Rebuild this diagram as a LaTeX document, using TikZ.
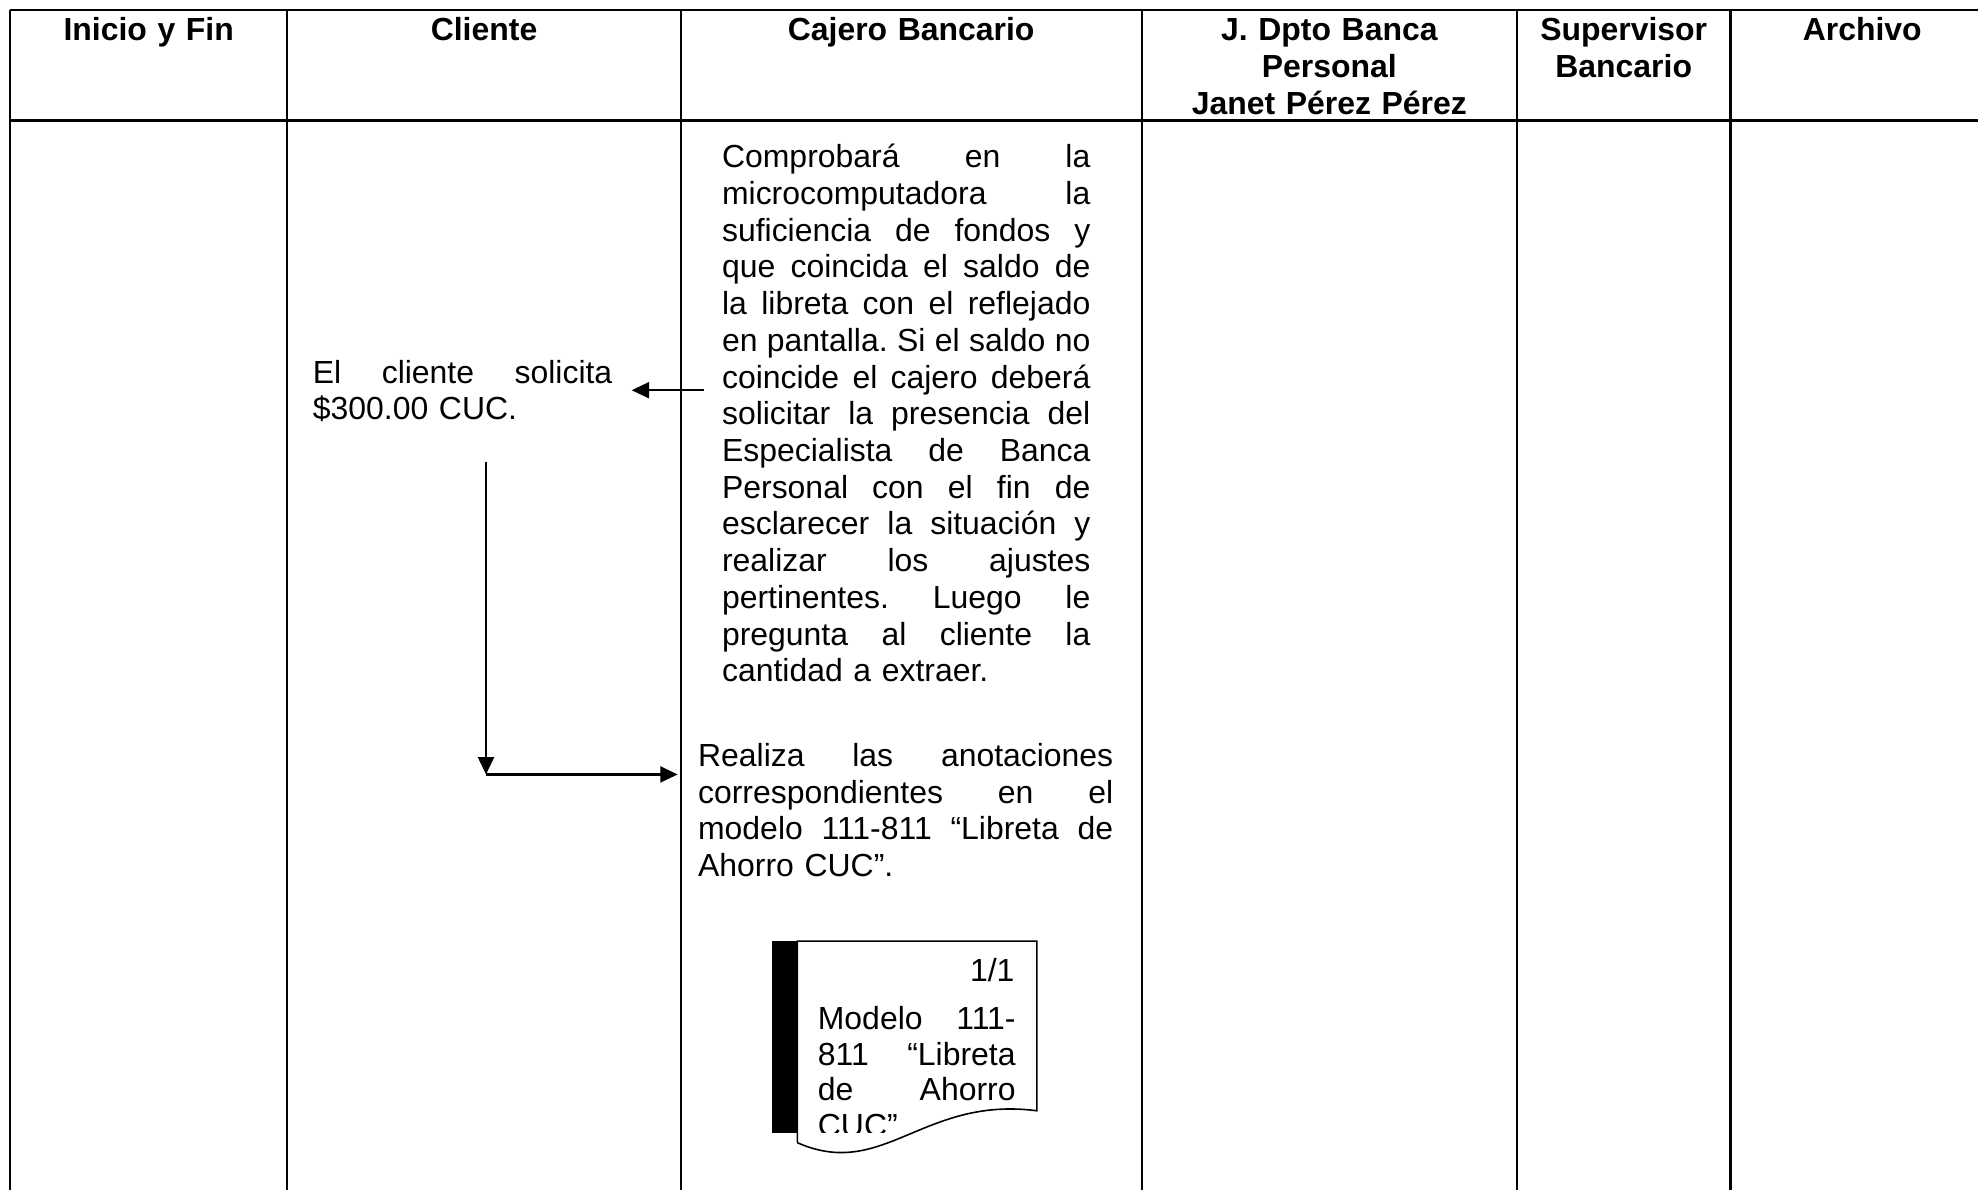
\documentclass[tikz,border=0pt]{standalone}
\usepackage{fontspec}
\setmainfont{Liberation Sans}
\usetikzlibrary{arrows.meta}
\frenchspacing

% renglon justificado a todo el ancho de la caja
\newcommand{\renglon}[1]{{\spaceskip=0pt\xspaceskip=0pt\makebox[\linewidth][s]{#1}}}

\tikzset{
  titulo/.style={font=\fontsize{12}{13.8}\selectfont\bfseries, align=center, anchor=base, inner sep=0pt},
  texto/.style={font=\fontsize{12}{13.8}\selectfont, align=left, anchor=base west, inner sep=0pt},
  borde/.style={line width=0.8pt},
  flecha/.style={line width=0.8pt, -{Triangle[length=6.5pt,width=6pt]}},
}

\begin{document}
\begin{tikzpicture}[x=0.375pt, y=-0.375pt]
  \fill[white] (0,0) rectangle (1982,1192);
  % tabla
  \draw[borde, line width=1pt] (10,10) -- (1982,10);
  \draw[borde, line width=1pt] (10,121) -- (1982,121);
  \foreach \x in {10,288,682,1144,1520,1734}
    \draw[borde] (\x,10) -- (\x,1192);

  % encabezados
  \node[titulo, text width=100pt] (inicio) at (149,41) {Inicio y Fin};
  \node[titulo, text width=140pt] (cliente) at (485,41) {Cliente};
  \node[titulo, text width=160pt] (cajero) at (913,41) {Cajero Bancario};
  \node[titulo, text width=135pt] (jefe) at (1332,41) {J. Dpto Banca\\Personal\\Janet Pérez Pérez};
  \node[titulo, text width=78pt] (supervisor) at (1627,41) {Supervisor\\Bancario};
  \node[titulo, text width=90pt] (archivo) at (1866,41) {Archivo};

  % pasos
  \node[texto, text width=138.4pt] (comprueba) at (723,168) {%
    \renglon{Comprobará en la}\\
    \renglon{microcomputadora la}\\
    \renglon{suficiencia de fondos y}\\
    \renglon{que coincida el saldo de}\\
    \renglon{la libreta con el reflejado}\\
    \renglon{en pantalla. Si el saldo no}\\
    \renglon{coincide el cajero deberá}\\
    \renglon{solicitar la presencia del}\\
    \renglon{Especialista de Banca}\\
    \renglon{Personal con el fin de}\\
    \renglon{esclarecer la situación y}\\
    \renglon{realizar los ajustes}\\
    \renglon{pertinentes. Luego le}\\
    \renglon{pregunta al cliente la}\\
    cantidad a extraer.};
  \node[texto, text width=112.5pt] (solicita) at (313,384) {%
    \renglon{El cliente solicita}\\
    \$300.00 CUC.};
  \node[texto, text width=156pt] (anota) at (699,768) {%
    \renglon{Realiza las anotaciones}\\
    \renglon{correspondientes en el}\\
    \renglon{modelo 111-811 “Libreta de}\\
    Ahorro CUC”.};

  % documento
  \fill (774,943) rectangle (799,1135);
  \draw[line width=0.6pt] (799,1145) -- (799,943) -- (1039,943) -- (1039,1113)
    .. controls (925,1098) and (885,1183) .. (799,1145);
  \node[texto, anchor=base east] (hoja) at (1017,983) {1/1};
  \begin{scope}
    \clip (774,943) rectangle (1039,1135);
    \node[texto, text width=74.3pt, font=\fontsize{12}{13.3}\selectfont] (modelo) at (819,1032) {%
      \renglon{Modelo 111-}\\
      \renglon{811 “Libreta}\\
      \renglon{de Ahorro}\\
      CUC”};
  \end{scope}

  % flechas
  \coordinate (salida) at (705,391);
  \draw[flecha] (salida) -- ([xshift=7.1pt]salida -| solicita.east);
  \coordinate (baja) at (487,463);
  \coordinate (codo) at (487,776);
  \draw[flecha] (baja) -- (codo);
  \draw[flecha] (codo) -- ([xshift=-7.5pt]codo -| anota.west);
\end{tikzpicture}
\end{document}
